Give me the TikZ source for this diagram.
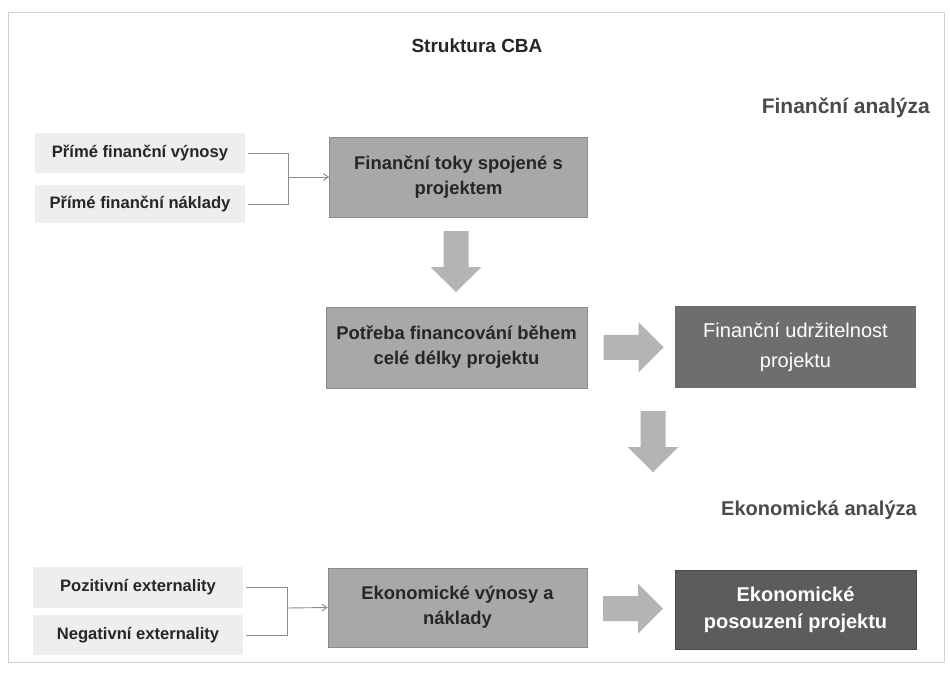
\documentclass[tikz,border=0pt]{standalone}
\usepackage{fontspec}
\setmainfont{Liberation Sans}
\usetikzlibrary{arrows.meta,calc}
\definecolor{lightbox}{HTML}{EEEEEE}
\definecolor{midbox}{HTML}{A8A8A8}
\definecolor{midborder}{HTML}{8A8A8A}
\definecolor{darkbox}{HTML}{6E6E6E}
\definecolor{darkerbox}{HTML}{5C5C5C}
\definecolor{arrowfill}{HTML}{B4B4B4}
\definecolor{txtdark}{HTML}{262626}
\definecolor{headgray}{HTML}{4A4A4A}
\definecolor{linegray}{HTML}{8C8C8C}
\tikzset{
  inbox/.style={fill=lightbox, draw=none, minimum width=210, minimum height=40, inner sep=0pt,
    text=txtdark, font=\fontsize{16.6}{19}\selectfont\bfseries},
  midnode/.style={fill=midbox, draw=midborder, line width=0.8pt, minimum width=258, minimum height=80,
    inner sep=0pt, align=center, text=txtdark, font=\fontsize{18.4}{25}\selectfont\bfseries},
  darknode/.style={fill=darkbox, draw=none, minimum width=241, minimum height=82, inner sep=0pt,
    align=center, text=white, font=\fontsize{20}{30}\selectfont},
  darkernode/.style={fill=darkerbox, draw=darkerbox!80!black, line width=0.8pt, minimum width=241, minimum height=79, inner sep=0pt,
    align=center, text=white, font=\fontsize{20}{27}\selectfont\bfseries},
  conn/.style={draw=linegray, line width=0.9pt},
  connarrow/.style={conn, -{Straight Barb[length=5pt,width=7pt]}},
  heading/.style={text=headgray, font=\fontsize{20.5}{24}\selectfont\bfseries, inner sep=0pt},
  blockarrow/.style={fill=arrowfill, draw=none},
  darr/.pic={\path[blockarrow] (-12.5,0) -- (12.5,0) -- (12.5,36) -- (25.5,36) -- (0,61) -- (-25.5,36) -- (-12.5,36) -- cycle;},
  rarr/.pic={\path[blockarrow] (-30,-12.5) -- (5,-12.5) -- (5,-25) -- (30,0) -- (5,25) -- (5,12.5) -- (-30,12.5) -- cycle;}
}
\begin{document}
\begin{tikzpicture}[x=1pt,y=-1pt]
\useasboundingbox (0,0) rectangle (950,675);
\fill[white] (0,0) rectangle (950,675);
\draw[gray!35, line width=1pt] (8,12) rectangle (944,662);

% headings
\node[text=txtdark, font=\fontsize{19}{22}\selectfont\bfseries] (title) at (477,46) {Struktura CBA};
\node[heading, anchor=east, font=\fontsize{21}{24}\selectfont\bfseries] (fin) at (930,108) {Finanční analýza};
\node[heading, anchor=east, font=\fontsize{20}{24}\selectfont\bfseries] (eko) at (917,510) {Ekonomická analýza};

% financial part
\node[inbox] (v1) at (140,153) {Přímé finanční výnosy};
\node[inbox, minimum height=38] (v2) at (140,204) {Přímé finanční náklady};
\node[midnode] (toky) at (458.5,177) {Finanční toky spojené s\\projektem};
\node[midnode, minimum width=261, minimum height=81] (potreba) at (456.5,347.5) {Potřeba financování během\\celé délky projektu};
\node[darknode] (udrz) at (795.5,347) {Finanční udržitelnost\\projektu};

\coordinate (j1) at (288,177);
\draw[conn] ([xshift=3pt]v1.east) -- (v1.east -| j1) -- (v2.east -| j1) -- ([xshift=3pt]v2.east);
\draw[connarrow] (j1) -- (toky.west);

\pic at ($(toky.south)!0.5!(potreba.north)+(-1.5,-31)$) {darr};
\pic at ($(potreba.east)!0.5!(udrz.west)+(2.5,0)$) {rarr};
\pic at (653,411) {darr};

% economic part
\node[inbox, minimum height=41] (poz) at (138,587.5) {Pozitivní externality};
\node[inbox] (neg) at (138,635) {Negativní externality};
\node[midnode, minimum width=259, minimum height=79] (ekv) at (457.5,607.5) {Ekonomické výnosy a\\náklady};
\node[darkernode] (ekp) at (795.5,609.5) {Ekonomické\\posouzení projektu};

\coordinate (j2) at (287,608);
\draw[conn] ([xshift=3pt]poz.east) -- (poz.east -| j2) -- (neg.east -| j2) -- ([xshift=3pt]neg.east);
\draw[connarrow] (j2) -- (ekv.west);

\pic at ($(ekv.east)!0.5!(ekp.west)+(2,0)$) {rarr};
\end{tikzpicture}
\end{document}
